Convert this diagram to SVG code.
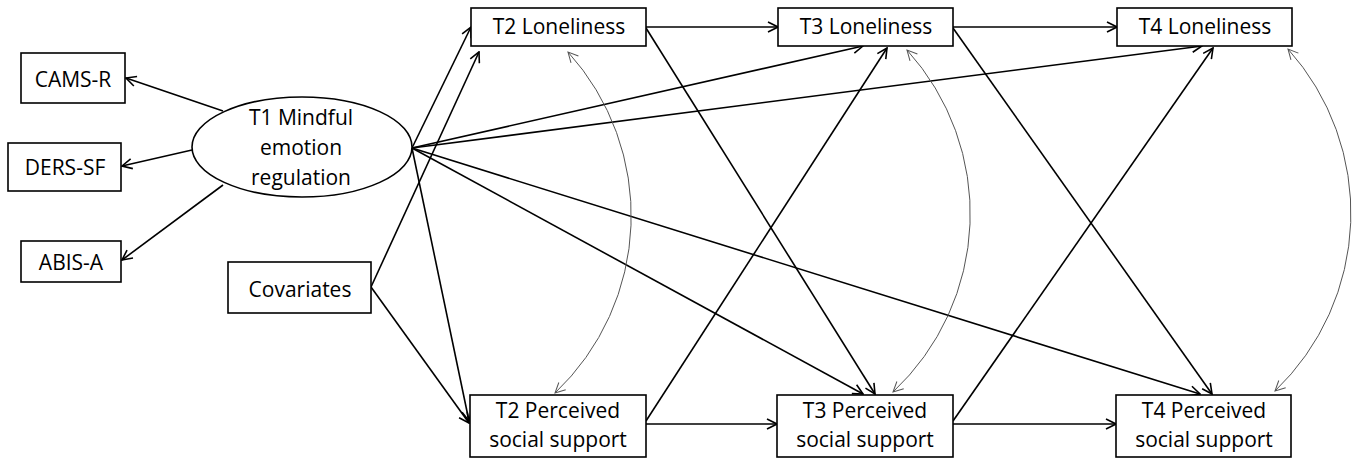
<svg xmlns="http://www.w3.org/2000/svg" width="1359" height="460" viewBox="0 0 1359 460">
<style>
.box{fill:#fff;stroke:#000;stroke-width:1.6}
.t{font-family:"Open Sans","Liberation Sans",sans-serif;font-size:21px;fill:#000;text-anchor:middle}
.e{fill:none;stroke:#000;stroke-width:1.6;marker-end:url(#ah)}
.c{fill:none;stroke:#555;stroke-width:1;marker-end:url(#ahg);marker-start:url(#ahg)}
</style>
<defs>
<marker id="ah" viewBox="0 0 12 12" refX="11" refY="6" markerWidth="12" markerHeight="12" orient="auto" markerUnits="userSpaceOnUse">
<path d="M1,1 L11,6 L1,11" fill="none" stroke="#000" stroke-width="1.6"/>
</marker>
<marker id="ahg" viewBox="0 0 12 12" refX="11" refY="6" markerWidth="12" markerHeight="12" orient="auto-start-reverse" markerUnits="userSpaceOnUse">
<path d="M1,1 L11,6 L1,11" fill="none" stroke="#555" stroke-width="1"/>
</marker>
</defs>
<rect width="1359" height="460" fill="#fff"/>
<g id="connectors">
<line class="e" x1="223" y1="111" x2="126" y2="78"/>
<line class="e" x1="192" y1="150" x2="122" y2="166"/>
<line class="e" x1="223" y1="185" x2="122" y2="260"/>
<line class="e" x1="412" y1="148" x2="471" y2="27"/>
<line class="e" x1="371" y1="287" x2="479" y2="52"/>
<line class="e" x1="412" y1="148" x2="469" y2="421"/>
<line class="e" x1="371" y1="287" x2="469" y2="423"/>
<line class="e" x1="412" y1="148" x2="863" y2="46"/>
<line class="e" x1="412" y1="148" x2="1202" y2="46"/>
<line class="e" x1="412" y1="148" x2="863" y2="394"/>
<line class="e" x1="412" y1="148" x2="1200" y2="394"/>
<line class="e" x1="646" y1="27" x2="778" y2="27"/>
<line class="e" x1="953" y1="27" x2="1117" y2="27"/>
<line class="e" x1="646" y1="28" x2="875" y2="394"/>
<line class="e" x1="953" y1="28" x2="1212" y2="394"/>
<line class="e" x1="646" y1="424" x2="777" y2="424"/>
<line class="e" x1="953" y1="424" x2="1116" y2="424"/>
<line class="e" x1="646" y1="421" x2="887" y2="48"/>
<line class="e" x1="953" y1="421" x2="1213" y2="48"/>
<path class="c" d="M568,52 A244,244 0 0 1 555,393"/>
<path class="c" d="M907,50 A244,244 0 0 1 893,392"/>
<path class="c" d="M1288,49 A246,246 0 0 1 1275,391"/>
</g>
<g id="cams"><rect class="box" x="21" y="53" width="104" height="50"/><text class="t" x="73" y="87">CAMS-R</text></g>
<g id="ders"><rect class="box" x="8" y="143" width="113" height="48"/><text class="t" x="65" y="175">DERS-SF</text></g>
<g id="abis"><rect class="box" x="21" y="241" width="100" height="41"/><text class="t" x="71" y="270">ABIS-A</text></g>
<g id="t1"><ellipse cx="302" cy="147" rx="110" ry="50" fill="#fff" stroke="#000" stroke-width="1.6"/>
<text class="t" x="301" y="125">T1 Mindful</text><text class="t" x="301" y="155">emotion</text><text class="t" x="301" y="185">regulation</text></g>
<g id="cov"><rect class="box" x="228" y="262" width="143" height="51"/><text class="t" x="300" y="297">Covariates</text></g>
<g id="t2l"><rect class="box" x="471" y="8" width="175" height="38"/><text class="t" x="559" y="34">T2 Loneliness</text></g>
<g id="t3l"><rect class="box" x="778" y="8" width="175" height="38"/><text class="t" x="866" y="34">T3 Loneliness</text></g>
<g id="t4l"><rect class="box" x="1117" y="8" width="175" height="38"/><text class="t" x="1205" y="34">T4 Loneliness</text></g>
<g id="t2p"><rect class="box" x="470" y="395" width="176" height="62"/><text class="t" x="558" y="418">T2 Perceived</text><text class="t" x="558" y="447">social support</text></g>
<g id="t3p"><rect class="box" x="777" y="395" width="176" height="62"/><text class="t" x="865" y="418">T3 Perceived</text><text class="t" x="865" y="447">social support</text></g>
<g id="t4p"><rect class="box" x="1116" y="395" width="175" height="62"/><text class="t" x="1204" y="418">T4 Perceived</text><text class="t" x="1204" y="447">social support</text></g>
</svg>
